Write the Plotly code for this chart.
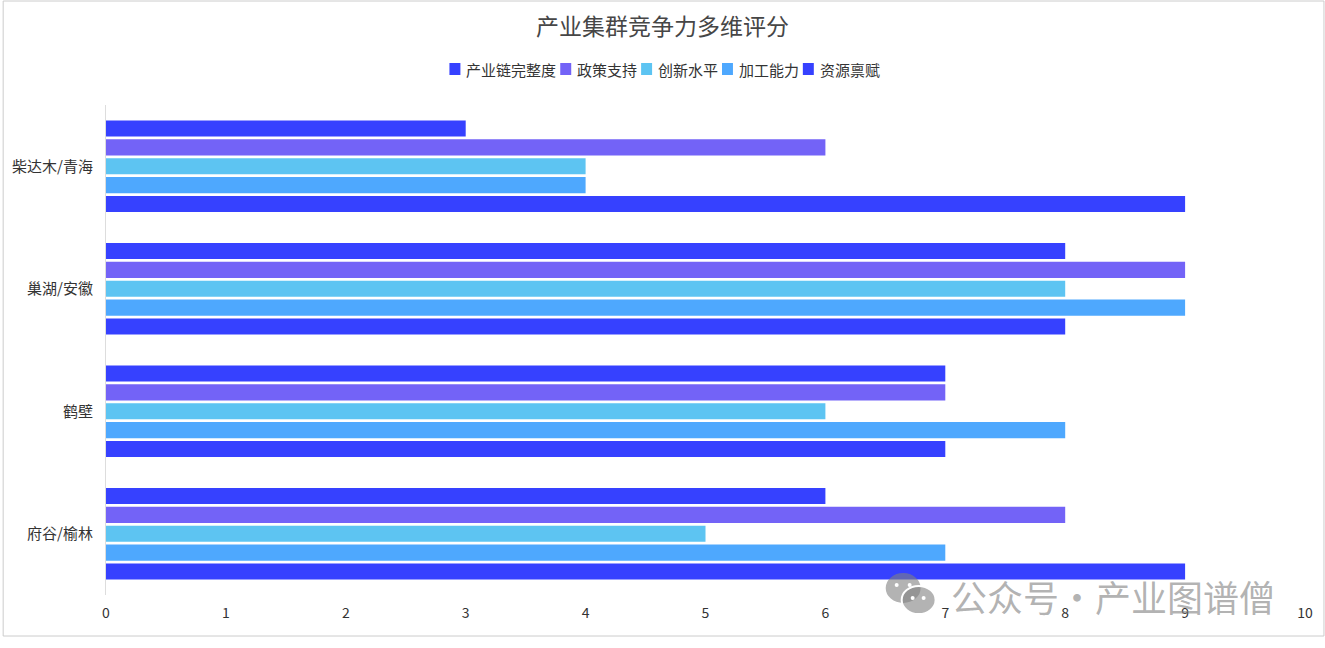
import plotly.graph_objects as go

regions = ["府谷/榆林", "鹤壁", "巢湖/安徽", "柴达木/青海"]

chain = [6, 7, 8, 3]        # 产业链完整度
policy = [8, 7, 9, 6]       # 政策支持
innovation = [5, 6, 8, 4]   # 创新水平
processing = [7, 8, 9, 4]   # 加工能力
resource = [9, 7, 8, 9]     # 资源禀赋

legend_names = ["产业链完整度", "政策支持", "创新水平", "加工能力", "资源禀赋"]
legend_colors = ["#3641FF", "#7363F7", "#5DC4F2", "#4EA8FE", "#3641FF"]

# plotly puts the first trace at the bottom of each group, so add them in reverse
series = [
    ("资源禀赋", resource, "#3641FF"),
    ("加工能力", processing, "#4EA8FE"),
    ("创新水平", innovation, "#5DC4F2"),
    ("政策支持", policy, "#7363F7"),
    ("产业链完整度", chain, "#3641FF"),
]

W, H = 1325, 648
L, R, T, B = 104, 20, 105, 53
pw, ph = W - L - R, H - T - B


def px(x):
    return (x - L) / pw


def py(y):
    return (T + ph - y) / ph


fig = go.Figure()
for name, vals, color in series:
    fig.add_trace(go.Bar(y=regions, x=vals, name=name, orientation="h",
                         marker=dict(color=color, line=dict(width=0)),
                         showlegend=False))

font = "Microsoft YaHei, Noto Sans CJK SC, sans-serif"

fig.update_layout(
    width=W, height=H,
    margin=dict(l=L, r=R, t=T, b=B),
    paper_bgcolor="white", plot_bgcolor="white",
    font=dict(family=font, color="#333", size=14),
    title=dict(text="产业集群竞争力多维评分", x=0.5, xanchor="center",
               y=1 - 27 / H, yanchor="middle",
               font=dict(size=23, color="#464646")),
    barmode="group", bargap=0.23, bargroupgap=0.15,
    xaxis=dict(range=[0, 10], dtick=1, showgrid=False, zeroline=False,
               showline=False, ticks="", tickfont=dict(size=14, color="#333"),
               ticklabelstandoff=8),
    yaxis=dict(showgrid=False, showline=True, linecolor="#dddddd", linewidth=1,
               ticks="", tickfont=dict(size=15, color="#333"),
               ticklabelstandoff=9),
)

# legend drawn by hand so the items sit as tight as in the original
char_w, sq, gap1, gap2 = 15, 11, 4, 6
widths = [sq + gap1 + char_w * len(n) for n in legend_names]
total = sum(widths) + gap2 * (len(widths) - 1)
x = W / 2 - total / 2
for name, color, w in zip(legend_names, legend_colors, widths):
    fig.add_shape(type="rect", xref="paper", yref="paper",
                  x0=px(x), x1=px(x + sq), y0=py(75), y1=py(63),
                  fillcolor=color, line=dict(width=0))
    fig.add_annotation(text=name, xref="paper", yref="paper",
                       x=px(x + sq + gap1), y=py(69), xanchor="left",
                       yanchor="middle", showarrow=False,
                       font=dict(size=15, color="#333", family=font))
    x += w + gap2

# outer border
fig.add_shape(type="rect", xref="paper", yref="paper",
              x0=px(1), x1=px(W - 1), y0=py(636), y1=py(1),
              line=dict(color="#cccccc", width=1))

# watermark
grey = "rgba(128,128,128,0.6)"
fig.add_annotation(text="公众号·产业图谱僧", xref="paper", yref="paper",
                   x=px(1113), y=py(596), xanchor="center", yanchor="middle",
                   showarrow=False, font=dict(size=36, color=grey, family=font))
fig.add_shape(type="circle", xref="paper", yref="paper",
              x0=px(885), x1=px(920), y0=py(603), y1=py(573),
              fillcolor=grey, line=dict(width=0))
fig.add_shape(type="circle", xref="paper", yref="paper",
              x0=px(901), x1=px(935), y0=py(614), y1=py(586),
              fillcolor=grey, line=dict(color="white", width=2))
for cx, cy in [(896, 585), (909, 585), (912, 598), (923, 598)]:
    fig.add_shape(type="circle", xref="paper", yref="paper",
                  x0=px(cx - 2), x1=px(cx + 2), y0=py(cy + 2), y1=py(cy - 2),
                  fillcolor="white", line=dict(width=0))

fig.write_html("out.html", config={"displayModeBar": False},
               post_script="document.body.style.margin = '0';")
